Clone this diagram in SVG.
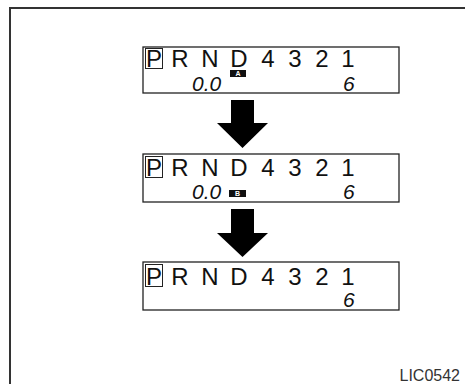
<svg xmlns="http://www.w3.org/2000/svg" width="465" height="384" viewBox="0 0 465 384">
<style>
.frame{fill:none;stroke:#333;stroke-width:2}
.box{fill:#fff;stroke:#222;stroke-width:1.3}
.pbox{fill:none;stroke:#222;stroke-width:1}
.sel{font-family:"Liberation Sans",Arial,sans-serif;font-size:24px;fill:#111;text-anchor:middle}
.dig{font-family:"Liberation Sans",Arial,sans-serif;font-style:italic;font-size:21px;fill:#111}
.badge{fill:#111}
.btxt{font-family:"Liberation Sans",Arial,sans-serif;font-weight:bold;font-size:7px;fill:#fff;text-anchor:middle}
.arrow{fill:#000}
.code{font-family:"Liberation Sans",Arial,sans-serif;font-size:16px;fill:#333;text-anchor:end}
</style>
<path class="frame" d="M10,384 V8 H465"/>

<g id="display1">
<rect class="box" x="143" y="47" width="256" height="46"/>
<rect class="pbox" x="145.5" y="48.5" width="17" height="20"/>
<text class="sel" x="154" y="66.5">P</text>
<text class="sel" x="180 195 210 224.5 239 253.5 268 281.5 295 308.5 322 335 348" y="66.5">R N D 4 3 2 1</text>
<rect class="badge" x="230" y="70" width="16" height="7"/>
<text class="btxt" x="238" y="76">A</text>
<text class="dig" x="192" y="91">0.0</text>
<text class="dig" x="343" y="91">6</text>
</g>

<g id="display2">
<rect class="box" x="143" y="154" width="256" height="48"/>
<rect class="pbox" x="145.5" y="156.5" width="17" height="21"/>
<text class="sel" x="154" y="175.5">P</text>
<text class="sel" x="180 195 210 224.5 239 253.5 268 281.5 295 308.5 322 335 348" y="175.5">R N D 4 3 2 1</text>
<rect class="badge" x="229" y="190" width="17" height="7"/>
<text class="btxt" x="237.5" y="196">B</text>
<text class="dig" x="192" y="199">0.0</text>
<text class="dig" x="343" y="199">6</text>
</g>

<g id="display3">
<rect class="box" x="143" y="262" width="256" height="48"/>
<rect class="pbox" x="145.5" y="264.5" width="17" height="22"/>
<text class="sel" x="154" y="284.5">P</text>
<text class="sel" x="180 195 210 224.5 239 253.5 268 281.5 295 308.5 322 335 348" y="284.5">R N D 4 3 2 1</text>
<text class="dig" x="343" y="307">6</text>
</g>

<g id="connectors">
<polygon class="arrow" points="231,100 254,100 254,123 268,123 242.5,148 217,123 231,123"/>
<polygon class="arrow" points="231,209 254,209 254,233 268,233 242.5,257 217,233 231,233"/>
</g>

<text class="code" x="460" y="381">LIC0542</text>
</svg>
